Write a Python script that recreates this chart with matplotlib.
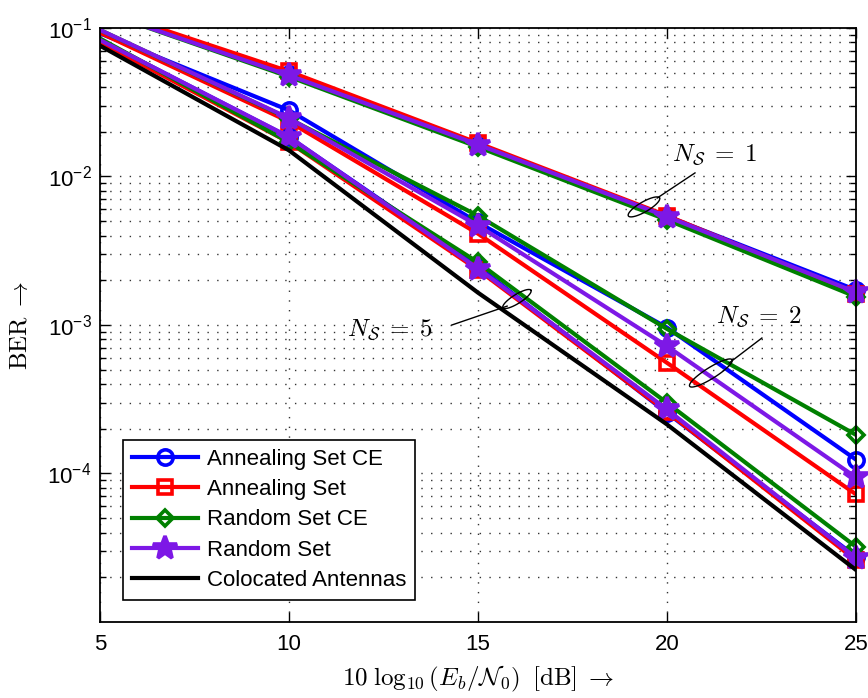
import numpy as np
import matplotlib
matplotlib.use('Agg')
import matplotlib.pyplot as plt
from matplotlib.lines import Line2D

plt.rcParams['font.family'] = ['Liberation Sans', 'DejaVu Sans']

snr_db = [5, 10, 15, 20, 25]

# N_S = 1
ann_ce_1 = [0.13, 0.049, 0.0163, 5.4e-3, 1.72e-3]
ann_1 = [0.135, 0.051, 0.0168, 5.45e-3, 1.62e-3]
rnd_ce_1 = [0.13, 0.047, 0.0158, 5.1e-3, 1.55e-3]
rnd_1 = [0.13, 0.048, 0.0164, 5.37e-3, 1.66e-3]

# N_S = 2
ann_ce_2 = [0.092, 0.0279, 4.9e-3, 9.6e-4, 1.24e-4]
ann_2 = [0.093, 0.0234, 4.12e-3, 5.56e-4, 7.24e-5]
rnd_ce_2 = [0.097, 0.0245, 5.44e-3, 9.4e-4, 1.82e-4]
rnd_2 = [0.097, 0.0247, 4.67e-3, 7.2e-4, 9.4e-5]

# N_S = 5
ann_ce_5 = [0.083, 0.0184, 2.47e-3, 2.56e-4, 2.75e-5]
ann_5 = [0.080, 0.0170, 2.35e-3, 2.6e-4, 2.6e-5]
rnd_ce_5 = [0.085, 0.0170, 2.64e-3, 2.99e-4, 3.21e-5]
rnd_5 = [0.083, 0.0185, 2.40e-3, 2.7e-4, 2.7e-5]

colocated = [0.076, 0.015, 1.65e-3, 2.14e-4, 2.24e-5]

labels = ['Annealing Set CE', 'Annealing Set', 'Random Set CE', 'Random Set',
          'Colocated Antennas']
ytick_vals = [1e-4, 1e-3, 1e-2, 1e-1]
ytick_labels = [r'$\mathregular{10^{-4}}$', r'$\mathregular{10^{-3}}$',
                r'$\mathregular{10^{-2}}$', r'$\mathregular{10^{-1}}$']

BLUE, RED, GREEN, PURPLE = '#0000ff', '#ff0000', '#008000', '#7d18e6'
styles = [
    dict(color=BLUE, marker='o', ms=11, mfc='none'),
    dict(color=RED, marker='s', ms=9.5, mfc='none'),
    dict(color=GREEN, marker='D', ms=8.5, mfc='none'),
    dict(color=PURPLE, marker='*', ms=18, mfc=PURPLE),
]
LW, MEW = 3.0, 2.6

fig = plt.figure(figsize=(8.68, 6.98), dpi=100)
ax = fig.add_axes([0.1152, 0.1089, 0.8710, 0.8510])

groups = [
    (ann_ce_1, ann_1, rnd_ce_1, rnd_1),
    (ann_ce_2, ann_2, rnd_ce_2, rnd_2),
    (ann_ce_5, ann_5, rnd_ce_5, rnd_5),
]
for g in groups:
    for k, series in enumerate(g):
        st = styles[k]
        ax.semilogy(snr_db, series, color=st['color'], lw=LW)
        # markers start at 10 dB and are not clipped at the right frame
        ax.semilogy(snr_db[1:], series[1:], ls='none', mew=MEW,
                    clip_on=False, **st)
ax.semilogy(snr_db, colocated, color='black', lw=LW)

handles = [Line2D([], [], lw=LW, mew=MEW, **st) for st in styles]
handles.append(Line2D([], [], color='black', lw=LW))

ax.set_xlim(5, 25)
ax.set_ylim(1e-5, 1e-1)
ax.set_xticks(snr_db)
ax.set_yticks(ytick_vals)
ax.set_yticklabels(ytick_labels)
ax.tick_params(which='both', direction='in', top=True, right=True,
               labelsize=16, width=1.0)
ax.tick_params(which='major', length=7)
ax.tick_params(which='minor', length=4)
ax.tick_params(axis='x', pad=9)
ax.tick_params(axis='y', pad=6)
grid_ls = (0, (1, 6))
ax.grid(True, which='major', axis='x', ls=grid_ls, color='#333333', lw=1.0)
ax.grid(True, which='both', axis='y', ls=grid_ls, color='#333333', lw=1.0)
for s in ax.spines.values():
    s.set_linewidth(1.3)

ax.set_xlabel(r'$10\;\log_{10}(E_b/\mathcal{N}_0)\;\;[\mathrm{dB}]\;\rightarrow$',
              fontsize=18, math_fontfamily='cm', labelpad=6)
ax.set_ylabel(r'$\mathrm{BER}\;\rightarrow$', fontsize=18,
              math_fontfamily='cm', labelpad=11)

# ellipse annotations (pixel-sized ellipses in a log axis)
PX_PER_DB = 0.8710 * 868 / 20.0
PX_PER_DEC = 0.8510 * 698 / 4.0


def ring(cx, cy, a, b, ang):
    t = np.linspace(0, 2 * np.pi, 120)
    th = np.deg2rad(ang)
    dx = a * np.cos(t) * np.cos(th) - b * np.sin(t) * np.sin(th)
    dy = a * np.cos(t) * np.sin(th) + b * np.sin(t) * np.cos(th)
    ax.plot(cx + dx / PX_PER_DB, 10 ** (np.log10(cy) + dy / PX_PER_DEC),
            color='black', lw=1.0)


notes = [
    # text, text pos, line start, line end, ellipse center, a, b, angle
    (r'$N_{\mathcal{S}}\;=\;1$', (21.27, 1.40e-2), (20.74, 1.057e-2),
     (19.74, 7.16e-3), (19.39, 6.24e-3), 18, 5, 30),
    (r'$N_{\mathcal{S}}\;=\;2$', (22.43, 1.13e-3), (22.51, 8.17e-4),
     (21.64, 5.54e-4), (21.16, 4.75e-4), 25, 5.5, 32),
    (r'$N_{\mathcal{S}}\;=\;5$', (12.67, 9.25e-4), (14.31, 1.0e-3),
     (15.77, 1.34e-3), (16.03, 1.496e-3), 16.5, 4.5, 32),
]
for txt, tp, l0, l1, c, a, b, ang in notes:
    ax.text(tp[0], tp[1], txt, fontsize=18, math_fontfamily='cm',
            ha='center', va='center')
    ax.plot([l0[0], l1[0]], [l0[1], l1[1]], color='black', lw=1.0)
    ring(c[0], c[1], a, b, ang)

leg = ax.legend(handles, labels, loc='lower left',
                bbox_to_anchor=(0.030, 0.037), borderaxespad=0,
                fontsize=16, handlelength=3.0, handletextpad=0.4,
                labelspacing=0.42, borderpad=0.4, fancybox=False,
                edgecolor='black', framealpha=1)
leg.get_frame().set_linewidth(1.2)

fig.savefig('out.png', dpi=100)
